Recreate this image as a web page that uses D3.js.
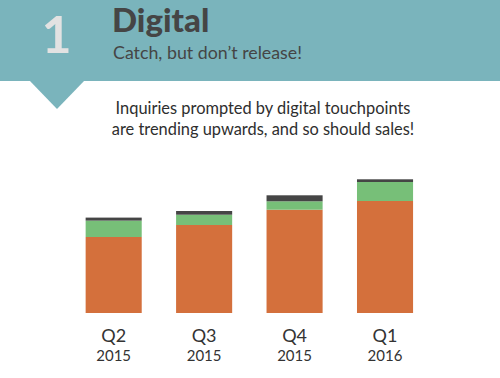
<!DOCTYPE html>
<html><head><meta charset="utf-8">
<script src="https://cdn.jsdelivr.net/npm/d3@7"></script>
<style>
html,body{margin:0;padding:0;background:#fff;}
svg{display:block;font-family:Lato,"Open Sans",sans-serif;}
</style></head>
<body>
<svg id="c" width="500" height="378"></svg>
<script>
const quarters = ["Q2","Q3","Q4","Q1"];
const years = ["2015","2015","2015","2016"];
const baseValues = [76, 88, 103.3, 112];      // orange
const midValues = [16.4, 10.3, 8.4, 19];      // green
const topValues = [3, 3.7, 6, 2.7];           // dark

const svg = d3.select("#c");
const teal = "#7ab4bc";

// header band
svg.append("rect").attr("x",0).attr("y",0).attr("width",500).attr("height",81).attr("fill",teal);
svg.append("path").attr("d","M29,80 L85,80 L57,109 Z").attr("fill",teal);

svg.append("text").attr("x",56.5).attr("y",53).attr("text-anchor","middle")
  .attr("font-size",52).attr("font-weight",700).attr("fill","#e2e2e2").text("1");
svg.append("text").attr("x",112).attr("y",32).attr("font-size",33).attr("font-weight",900)
  .attr("fill","#454545").text("Digital");
svg.append("text").attr("x",113).attr("y",59).attr("font-size",17.8)
  .attr("fill","#454545").text("Catch, but don\u2019t release!");

svg.append("text").attr("x",263).attr("y",114).attr("text-anchor","middle")
  .attr("font-size",16.4).attr("fill","#2e2e2e").text("Inquiries prompted by digital touchpoints");
svg.append("text").attr("x",263).attr("y",135).attr("text-anchor","middle")
  .attr("font-size",16.4).attr("fill","#2e2e2e").text("are trending upwards, and so should sales!");

// chart
const data = quarters.map((q,i)=>({q, i, base:baseValues[i], mid:midValues[i], top:topValues[i]}));
const stack = d3.stack().keys(["base","mid","top"])(data);
const colors = {base:"#d4703c", mid:"#77bf78", top:"#454545"};

const x = d3.scaleBand().domain(d3.range(quarters.length)).range([68.45,430.25])
  .paddingInner(0.38).paddingOuter(0.19);
const y = d3.scaleLinear().domain([0,150]).range([313,163]);

svg.append("g").selectAll("g").data(stack).join("g")
  .attr("fill",d=>colors[d.key])
  .selectAll("rect").data(d=>d).join("rect")
  .attr("x",(d,i)=>x(i)).attr("width",x.bandwidth())
  .attr("y",d=>y(d[1])).attr("height",d=>y(d[0])-y(d[1]));

const ax = svg.append("g").attr("transform","translate(0,313)")
  .call(d3.axisBottom(x).tickSize(0).tickPadding(16).tickFormat(i=>quarters[i]));
ax.select(".domain").remove();
ax.selectAll("text").attr("font-size",18).attr("fill","#333").attr("font-family","Lato");

svg.append("g").selectAll("text").data(years).join("text")
  .attr("x",(d,i)=>x(i)+x.bandwidth()/2).attr("y",361).attr("text-anchor","middle")
  .attr("font-size",15).attr("fill","#333").text(d=>d);
</script>
</body></html>
